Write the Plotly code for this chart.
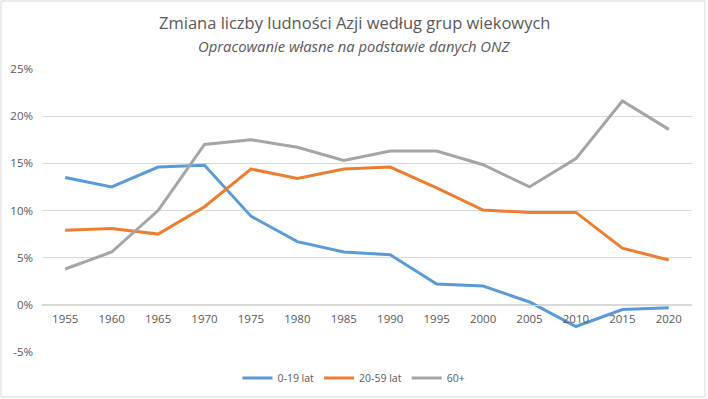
import plotly.graph_objects as go

years = [1955, 1960, 1965, 1970, 1975, 1980, 1985, 1990, 1995, 2000, 2005, 2010, 2015, 2020]
age_0_19 = [13.5, 12.5, 14.6, 14.8, 9.4, 6.7, 5.6, 5.3, 2.2, 2.0, 0.3, -2.3, -0.5, -0.3]
age_20_59 = [7.9, 8.1, 7.5, 10.4, 14.4, 13.4, 14.4, 14.6, 12.4, 10.05, 9.8, 9.8, 6.0, 4.76]
age_60p = [3.8, 5.6, 10.0, 17.0, 17.5, 16.7, 15.3, 16.3, 16.3, 14.85, 12.5, 15.5, 21.6, 18.6]

series_names = ["0-19 lat", "20-59 lat", "60+"]
series_colors = ["#5B9BD5", "#ED7D31", "#A5A5A5"]
y_ticks = [-5, 0, 5, 10, 15, 20, 25]
y_tick_labels = ["-5%", "0%", "5%", "10%", "15%", "20%", "25%"]

title_text = "Zmiana liczby ludności Azji według grup wiekowych"
subtitle_text = "Opracowanie własne na podstawie danych ONZ"

W, H = 708, 399
ml, mr, mt, mb = 42, 16, 69, 47
font_family = "Open Sans, Noto Sans, sans-serif"

pw = W - ml - mr
ph = H - mt - mb


def py(pix):
    """pixel row (from top) -> paper y"""
    return (H - mb - pix) / ph


def px(pix):
    return (pix - ml) / pw


fig = go.Figure()
x_labels = [str(y) for y in years]
for name, vals, col in zip(series_names, [age_0_19, age_20_59, age_60p], series_colors):
    fig.add_trace(go.Scatter(x=x_labels, y=vals, name=name, mode="lines",
                             line=dict(color=col, width=3)))

fig.update_layout(
    width=W, height=H,
    margin=dict(l=ml, r=mr, t=mt, b=mb, autoexpand=False),
    paper_bgcolor="white", plot_bgcolor="white",
    font=dict(family=font_family, color="#595959", size=12),
    showlegend=True,
    legend=dict(orientation="h", x=0.5, xanchor="center", xref="container",
                y=1 - 378 / H, yanchor="middle", yref="container",
                font=dict(size=10.5, color="#595959"), itemwidth=30, tracegroupgap=0),
    xaxis=dict(type="category", showgrid=False, showline=True, linecolor="#D9D9D9",
               linewidth=1, anchor="free", position=(0 - y_ticks[0]) / (y_ticks[-1] - y_ticks[0]),
               ticks="", tickfont=dict(size=11.5, color="#595959"), ticklabelstandoff=3,
               range=[-0.5, len(years) - 0.5], zeroline=False, automargin=False),
    yaxis=dict(range=[y_ticks[0], y_ticks[-1]], tickvals=y_ticks, ticktext=y_tick_labels,
               showgrid=True, gridcolor="#D9D9D9", gridwidth=1, zeroline=False,
               showline=False, ticks="", tickfont=dict(size=11.5, color="#595959"),
               ticklabelstandoff=8, automargin=False),
    annotations=[
        dict(text=title_text, x=px(354), xref="paper", y=py(23), yref="paper",
             xanchor="center", yanchor="middle", showarrow=False,
             font=dict(size=16.5, color="#595959", family=font_family)),
        dict(text="<i>" + subtitle_text + "</i>", x=px(354), xref="paper", y=py(45.5),
             yref="paper", xanchor="center", yanchor="middle", showarrow=False,
             font=dict(size=14.8, color="#595959", family=font_family)),
    ],
    shapes=[dict(type="rect", xref="paper", yref="paper",
                 x0=px(1), x1=px(W - 3), y0=py(H - 2), y1=py(1),
                 line=dict(color="#D9D9D9", width=1), layer="below")],
)

fig.write_html(
    "out.html",
    config={"displayModeBar": False},
    post_script="document.body.style.margin='0';document.body.style.overflow='hidden';",
)
